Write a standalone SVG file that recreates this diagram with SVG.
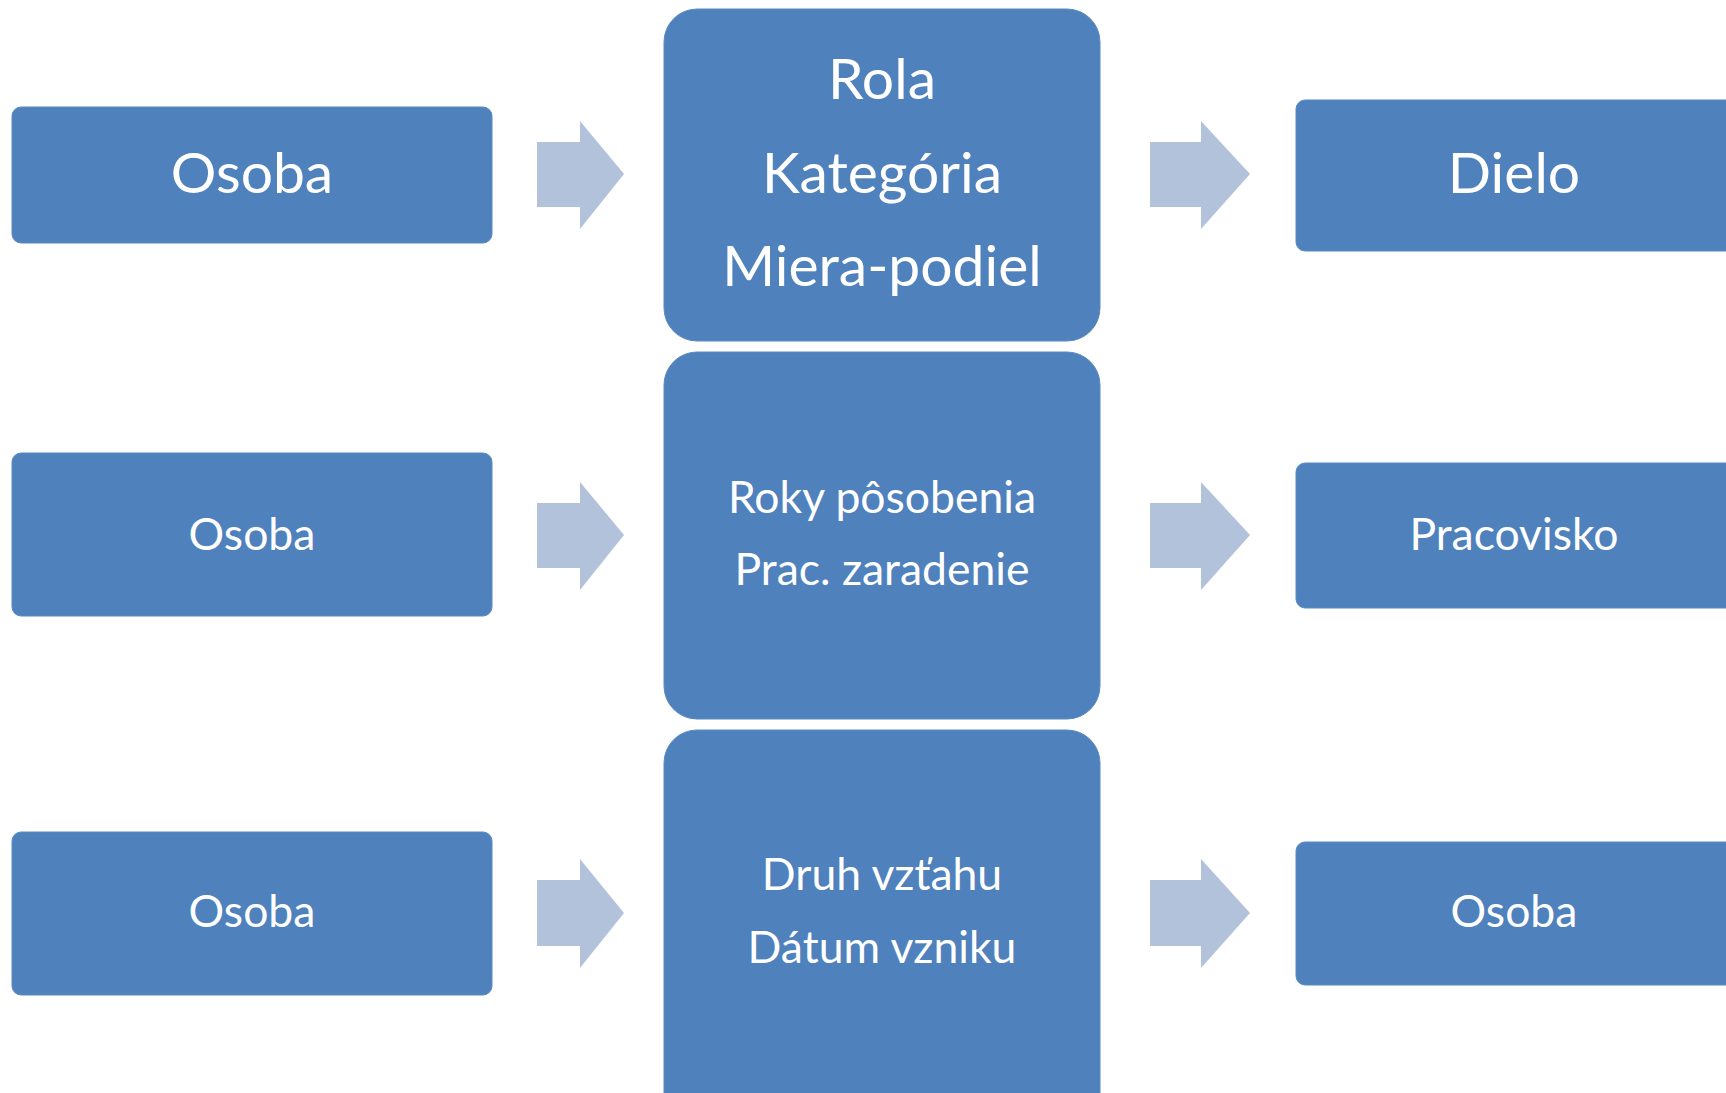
<svg xmlns="http://www.w3.org/2000/svg" width="1726" height="1093" viewBox="0 0 1726 1093">
<style>
.box{fill:#4F81BD;stroke:#5B8AC2;stroke-width:1}
.arr{fill:#B3C2DB}
text{font-family:Lato,"Open Sans","Liberation Sans",sans-serif;fill:#FFFFFF;text-anchor:middle}
.big{font-size:57px}
.sm{font-size:44.5px}
</style>
<rect width="1726" height="1093" fill="#FFFFFF"/>
<g id="connectors">
<path class="arr" d="M537,142 H580 V121 L624,174 L580,229 V207 H537 Z"/>
<path class="arr" d="M1150,142 H1201 V121 L1250,174 L1201,229 V207 H1150 Z"/>
<path class="arr" d="M537,503 H580 V482 L624,535 L580,590 V568 H537 Z"/>
<path class="arr" d="M1150,503 H1201 V482 L1250,535 L1201,590 V568 H1150 Z"/>
<path class="arr" d="M537,880 H580 V859 L624,913 L580,968 V946 H537 Z"/>
<path class="arr" d="M1150,880 H1201 V859 L1250,913 L1201,968 V946 H1150 Z"/>
</g>
<g id="osoba1"><rect class="box" x="12" y="107" width="480" height="136" rx="9"/><text class="big" x="252" y="193">Osoba</text></g>
<g id="mid1"><rect class="box" x="664" y="9" width="436" height="332" rx="33"/>
<text class="big" x="882" y="99">Rola</text>
<text class="big" x="882" y="193">Kategória</text>
<text class="big" x="882" y="286">Miera-podiel</text></g>
<g id="dielo"><rect class="box" x="1296" y="100" width="440" height="151" rx="9"/><text class="big" x="1514" y="193">Dielo</text></g>
<g id="osoba2"><rect class="box" x="12" y="453" width="480" height="163" rx="9"/><text class="sm" x="252" y="550">Osoba</text></g>
<g id="mid2"><rect class="box" x="664" y="352" width="436" height="367" rx="33"/>
<text class="sm" x="882" y="513">Roky pôsobenia</text>
<text class="sm" x="882" y="585">Prac. zaradenie</text></g>
<g id="pracovisko"><rect class="box" x="1296" y="463" width="440" height="145" rx="9"/><text class="sm" x="1514" y="550">Pracovisko</text></g>
<g id="osoba3"><rect class="box" x="12" y="832" width="480" height="163" rx="9"/><text class="sm" x="252" y="927">Osoba</text></g>
<g id="mid3"><rect class="box" x="664" y="730" width="436" height="400" rx="33"/>
<text class="sm" x="882" y="890">Druh vzťahu</text>
<text class="sm" x="882" y="963">Dátum vzniku</text></g>
<g id="osoba4"><rect class="box" x="1296" y="842" width="440" height="143" rx="9"/><text class="sm" x="1514" y="927">Osoba</text></g>
</svg>
